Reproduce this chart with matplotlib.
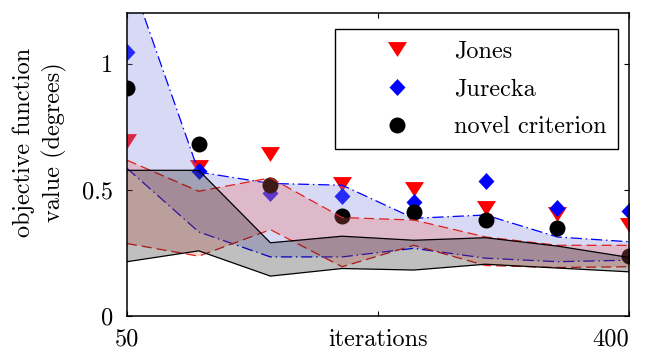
import matplotlib
matplotlib.use("Agg")
import matplotlib.pyplot as plt
from matplotlib.lines import Line2D

plt.rcParams["font.family"] = "cmr10"
plt.rcParams["mathtext.fontset"] = "cm"
plt.rcParams["axes.formatter.use_mathtext"] = True

# iteration counts
iterations = [50, 100, 150, 200, 250, 300, 350, 400]

# objective function values per method (degrees)
jones = [0.692, 0.590, 0.643, 0.524, 0.504, 0.429, 0.405, 0.360]
jurecka = [1.045, 0.574, 0.486, 0.476, 0.450, 0.535, 0.429, 0.416]
novel = [0.904, 0.681, 0.518, 0.395, 0.412, 0.382, 0.347, 0.237]

# spread bands (lower / upper envelope) per method
jurecka_hi = [1.38, 0.570, 0.525, 0.518, 0.387, 0.400, 0.313, 0.294]
jurecka_lo = [0.585, 0.333, 0.234, 0.234, 0.268, 0.229, 0.215, 0.221]
jones_hi = [0.617, 0.494, 0.547, 0.390, 0.380, 0.313, 0.280, 0.280]
jones_lo = [0.287, 0.237, 0.342, 0.195, 0.280, 0.200, 0.192, 0.195]
novel_hi = [0.577, 0.577, 0.290, 0.316, 0.300, 0.310, 0.277, 0.232]
novel_lo = [0.215, 0.258, 0.158, 0.188, 0.182, 0.205, 0.190, 0.175]

xticks = [50, 225, 400]
xticklabels = ["50", "", "400"]
yticks = [0, 0.5, 1]
yticklabels = ["0", "0.5", "1"]

FS = 17.5

tri = [(-1, 0.78), (1, 0.78), (0, -0.78), (-1, 0.78)]
dia = [(0, 1), (0.94, 0), (0, -1), (-0.94, 0), (0, 1)]

fig = plt.figure(figsize=(6.62, 3.52), dpi=100)
ax = fig.add_axes([127 / 662, 36 / 352, 502 / 662, 303 / 352])

# Jones / Jurecka markers sit underneath all translucent bands
ax.plot(iterations, jones, linestyle="none", marker=tri, markersize=13.7,
        color="red", markeredgewidth=0, zorder=1)
ax.plot(iterations, jurecka, linestyle="none", marker=dia, markersize=12.2,
        color="blue", markeredgewidth=0, zorder=1)

blue_fill = (129 / 255, 135 / 255, 222 / 255)
red_fill = (235 / 255, 100 / 255, 90 / 255)

ax.fill_between(iterations, jurecka_lo, jurecka_hi, facecolor=blue_fill,
                alpha=0.31, linewidth=0, zorder=2)
for band in (jurecka_lo, jurecka_hi):
    ax.plot(iterations, band, color="blue", linewidth=0.9,
            dashes=(9, 3, 1.2, 3), zorder=2.1)

# novel-criterion markers above the blue band, below the others
ax.plot(iterations, novel, linestyle="none", marker="o", markersize=11.5,
        color="black", markeredgewidth=0, zorder=2.5)

ax.fill_between(iterations, jones_lo, jones_hi, facecolor=red_fill,
                alpha=0.27, linewidth=0, zorder=3)
for band in (jones_lo, jones_hi):
    ax.plot(iterations, band, color="#e02020", linewidth=0.9,
            dashes=(8, 4), zorder=3.1)

ax.fill_between(iterations, novel_lo, novel_hi, facecolor="black",
                alpha=0.25, linewidth=0, zorder=4)
for band in (novel_lo, novel_hi):
    ax.plot(iterations, band, color="black", linewidth=0.9, zorder=4.1)

ax.set_xlim(50, 400)
ax.set_ylim(0, 1.2)
ax.set_xticks(xticks)
ax.set_xticklabels(xticklabels)
ax.set_yticks(yticks)
ax.set_yticklabels(yticklabels)
ax.tick_params(axis="both", direction="in", length=3.6, width=0.8,
               labelsize=FS, top=True, right=True)
ax.tick_params(axis="x", pad=9)
ax.tick_params(axis="y", pad=10)
ax.get_xticklabels()[-1].set_ha("right")
for sp in ax.spines.values():
    sp.set_linewidth(1.1)
    sp.set_zorder(10)

ax.set_xlabel("iterations", fontsize=FS)
ax.xaxis.set_label_coords(0.5, -12.5 / 303)
ax.xaxis.label.set_va("top")

ax.set_ylabel("objective function\nvalue (degrees)", fontsize=FS,
              multialignment="center", linespacing=1.35)
ax.yaxis.label.set_va("center")
ax.yaxis.label.set_ha("center")
ax.yaxis.set_label_coords(-87 / 502, (316 - 142) / 303)

handles = [
    Line2D([], [], linestyle="none", marker=tri, markersize=13.7,
           color="red", markeredgewidth=0),
    Line2D([], [], linestyle="none", marker=dia, markersize=12.2,
           color="blue", markeredgewidth=0),
    Line2D([], [], linestyle="none", marker="o", markersize=11.5,
           color="black", markeredgewidth=0),
]
leg = ax.legend(handles, ["Jones", "Jurecka", "novel criterion"],
                loc="upper right", bbox_to_anchor=(491 / 502, 287 / 303),
                borderaxespad=0, fancybox=False, framealpha=1,
                edgecolor="black", fontsize=FS, handlelength=4.2,
                handletextpad=0.25, labelspacing=0.66, borderpad=0.45)
leg.get_frame().set_linewidth(1.0)
leg.set_zorder(20)

fig.savefig("out.png", dpi=100)
